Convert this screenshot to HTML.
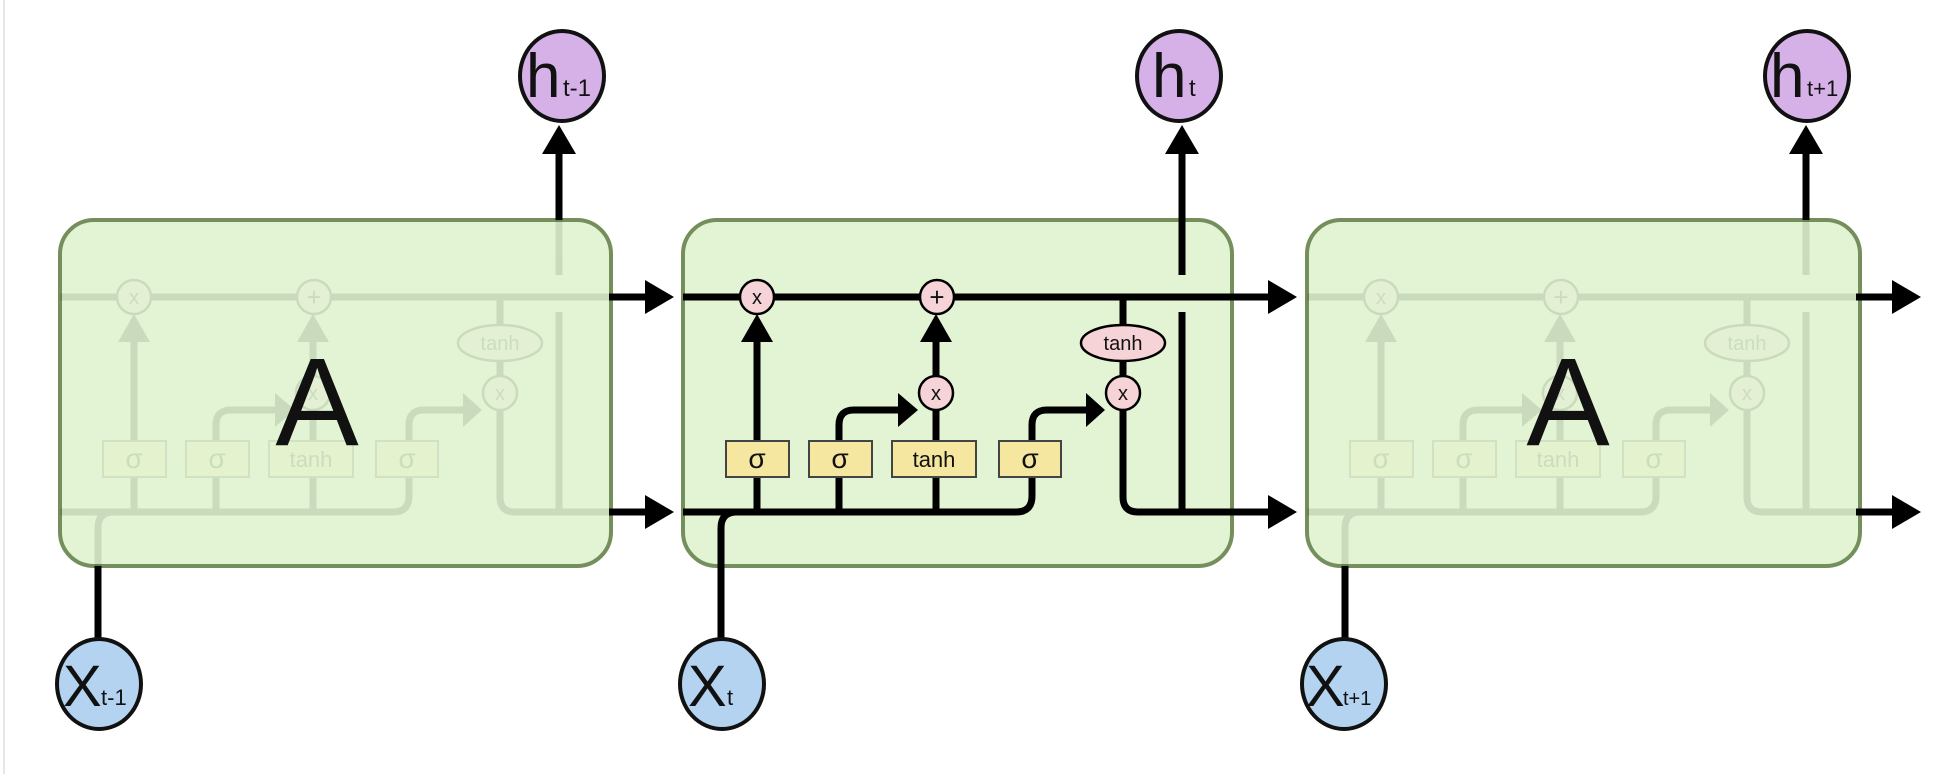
<!DOCTYPE html>
<html><head><meta charset="utf-8"><style>
html,body{margin:0;padding:0;background:#fff;}
svg{display:block;}
text{font-family:"Liberation Sans","DejaVu Sans",sans-serif;}
</style></head><body>
<svg width="1946" height="774" viewBox="0 0 1946 774" xmlns="http://www.w3.org/2000/svg">
<defs>
<g id="internals" fill="none" stroke="#000" stroke-width="7">
  <path d="M683 297 H1232"/>
  <path d="M683 512 H1016 Q1032 512 1032 496 V425 Q1032 410 1047 410 H1088"/>
  <polygon points="1086,393 1086,427 1105,410" fill="#000" stroke="none"/>
  <path d="M757 512 V340"/>
  <polygon points="741,342 773,342 757,314" fill="#000" stroke="none"/>
  <path d="M839 512 V425 Q839 410 854 410 H900"/>
  <polygon points="898,393 898,427 918,410" fill="#000" stroke="none"/>
  <path d="M936 512 V376"/>
  <path d="M936 376 V340"/>
  <polygon points="920,342 952,342 936,314" fill="#000" stroke="none"/>
  <path d="M1123 297 V343"/>
  <path d="M1123 343 V393 V497 Q1123 512 1138 512 H1232"/>
  <path d="M1182 512 V312"/>
  <path d="M1182 275 V220"/>
  <path d="M721 566 V528 Q721 512 737 512"/>
  <g stroke-width="2.5" fill="#f6d3d6">
    <circle cx="757" cy="297" r="17"/>
    <circle cx="937" cy="297" r="17"/>
    <circle cx="936" cy="393" r="17"/>
    <circle cx="1123" cy="393" r="17"/>
    <ellipse cx="1123" cy="343" rx="42" ry="18"/>
  </g>
  <g stroke-width="2" fill="#f5e6a0" stroke="#444">
    <rect x="726" y="441" width="63" height="36"/>
    <rect x="809" y="441" width="63" height="36"/>
    <rect x="892" y="441" width="84" height="36"/>
    <rect x="999" y="441" width="62" height="36"/>
  </g>
  <g fill="#111" stroke="none" text-anchor="middle">
    <text x="757" y="304" font-size="20">x</text>
    <text x="937" y="306" font-size="26">+</text>
    <text x="936" y="400" font-size="20">x</text>
    <text x="1123" y="400" font-size="20">x</text>
    <text x="1123" y="350" font-size="20">tanh</text>
    <text x="757" y="468" font-size="28">σ</text>
    <text x="840" y="468" font-size="28">σ</text>
    <text x="934" y="467" font-size="22">tanh</text>
    <text x="1030" y="468" font-size="28">σ</text>
  </g>
</g>
<g id="outside" fill="none" stroke="#000" stroke-width="7">
  <path d="M1182 220 V150"/>
  <polygon points="1165,154 1199,154 1182,125" fill="#000" stroke="none"/>
  <path d="M1232 297 H1270"/>
  <polygon points="1268,280 1268,314 1297,297" fill="#000" stroke="none"/>
  <path d="M1232 512 H1270"/>
  <polygon points="1268,495 1268,529 1297,512" fill="#000" stroke="none"/>
  <path d="M721 566 V640"/>
</g>
</defs>
<line x1="4" y1="0" x2="4" y2="774" stroke="#e6e6e6" stroke-width="2"/>

<g transform="translate(-623,0)">
  <rect x="683" y="220" width="551" height="346" rx="34" fill="#e2f4d4" stroke="#758f5c" stroke-width="4"/>
  <use href="#internals" opacity="0.1"/>
  <use href="#outside"/>
</g>
<text x="317" y="445" font-size="125" text-anchor="middle" fill="#111">A</text>

<rect x="683" y="220" width="549" height="346" rx="34" fill="#e2f4d4" stroke="#758f5c" stroke-width="4"/>
<use href="#internals"/>
<use href="#outside"/>

<g transform="translate(624,0)">
  <rect x="683" y="220" width="553" height="346" rx="34" fill="#e2f4d4" stroke="#758f5c" stroke-width="4"/>
  <use href="#internals" opacity="0.1"/>
  <use href="#outside"/>
</g>
<text x="1568" y="445" font-size="125" text-anchor="middle" fill="#111">A</text>

<g stroke="#111" stroke-width="4" fill="#d6b1e8">
  <ellipse cx="562" cy="76" rx="42" ry="45"/>
  <ellipse cx="1179" cy="76" rx="42" ry="45"/>
  <ellipse cx="1807" cy="76" rx="42" ry="45"/>
</g>
<g fill="#111">
  <text x="526" y="97" font-size="62">h</text><text x="563" y="96" font-size="24">t-1</text>
  <text x="1152" y="97" font-size="62">h</text><text x="1189" y="96" font-size="24">t</text>
  <text x="1770" y="97" font-size="62">h</text><text x="1807" y="96" font-size="22">t+1</text>
</g>
<g stroke="#111" stroke-width="4" fill="#b3d3f0">
  <ellipse cx="99" cy="684" rx="42" ry="45"/>
  <ellipse cx="722" cy="684" rx="42" ry="45"/>
  <ellipse cx="1344" cy="684" rx="42" ry="45"/>
</g>
<g fill="#111">
  <text x="63" y="706" font-size="58">X</text><text x="101" y="705" font-size="22">t-1</text>
  <text x="688" y="706" font-size="58">X</text><text x="727" y="705" font-size="22">t</text>
  <text x="1306" y="706" font-size="58">X</text><text x="1343" y="705" font-size="20">t+1</text>
</g>
</svg>
</body></html>
